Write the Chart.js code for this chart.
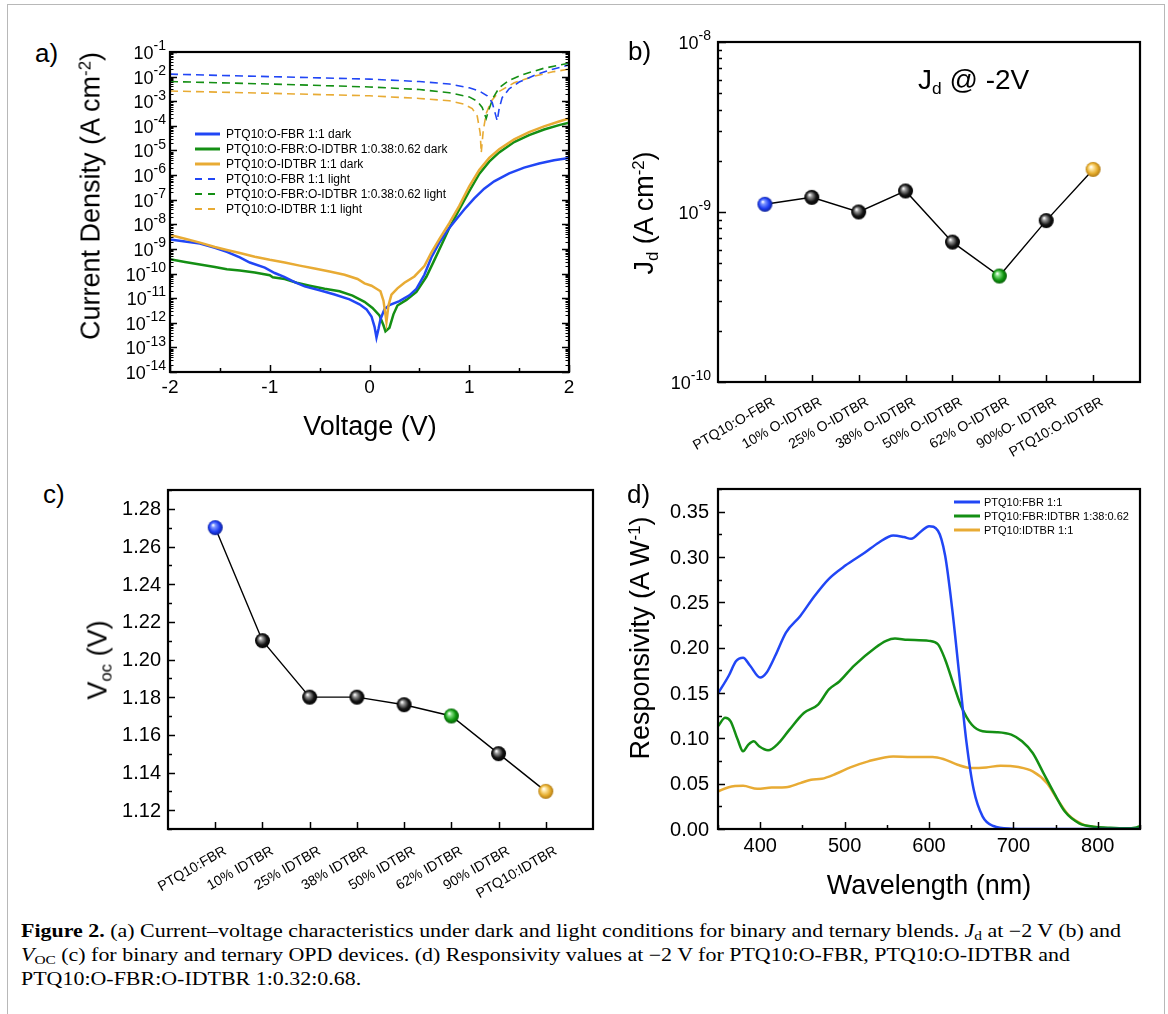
<!DOCTYPE html>
<html><head><meta charset="utf-8">
<script src="https://cdn.jsdelivr.net/npm/chart.js@4.4.0/dist/chart.umd.min.js"></script>
<style>
html,body{margin:0;padding:0;background:#fff;}
#root{position:relative;width:1168px;height:1014px;overflow:hidden;background:#fff;font-family:'Liberation Sans',Arial,sans-serif;color:#000;}
#frame{position:absolute;left:7px;top:4px;width:1158px;height:1040px;border:1.5px solid #b8b8b8;box-sizing:border-box;}
canvas{position:absolute;}
.t{position:absolute;white-space:nowrap;font-size:27px;line-height:1;}
.c{transform:translate(-50%,-50%);}
.rot{transform:translate(-50%,-50%) rotate(-90deg);}
.t sup{font-size:62%;position:relative;top:-0.55em;vertical-align:baseline;}
.t sub{font-size:62%;position:relative;top:0.3em;vertical-align:baseline;}
.pl{position:absolute;font-size:26px;line-height:1;}
#cap{position:absolute;left:21px;top:920px;font-family:'Liberation Serif','Times New Roman',serif;font-size:18px;line-height:22px;}
.cl{white-space:nowrap;transform-origin:0 50%;display:block;width:max-content;}
.cl sub{font-size:70%;vertical-align:baseline;position:relative;top:0.25em;}
</style></head>
<body><div id="root">
<div id="frame"></div>
<canvas id="ca" width="500" height="400" style="left:100px;top:30px"></canvas>
<canvas id="cb" width="520" height="440" style="left:640px;top:20px"></canvas>
<canvas id="cc" width="520" height="440" style="left:100px;top:470px"></canvas>
<canvas id="cd" width="520" height="400" style="left:640px;top:470px"></canvas>

<div class="pl" style="left:35px;top:40px">a)</div>
<div class="pl" style="left:628px;top:38px">b)</div>
<div class="pl" style="left:43px;top:481px">c)</div>
<div class="pl" style="left:627px;top:481px">d)</div>

<div class="t rot" style="left:91px;top:196px">Current Density (A cm<sup>-2</sup>)</div>
<div class="t c" style="left:370px;top:426px">Voltage (V)</div>
<div class="t rot" style="left:644px;top:213px">J<sub>d</sub> (A cm<sup>-2</sup>)</div>
<div class="t" style="left:918px;top:66px;font-size:28px">J<sub>d</sub> @ -2V</div>
<div class="t rot" style="left:98px;top:660px">V<sub>oc</sub> (V)</div>
<div class="t rot" style="left:640px;top:638px">Responsivity (A W<sup>-1</sup>)</div>
<div class="t c" style="left:929px;top:885px">Wavelength (nm)</div>

<div id="cap">
<div class="cl" id="cl1"><b>Figure 2.</b> (a) Current–voltage characteristics under dark and light conditions for binary and ternary blends. <i>J</i><sub>d</sub> at −2 V (b) and</div>
<div class="cl" id="cl2"><i>V</i><sub>OC</sub> (c) for binary and ternary OPD devices. (d) Responsivity values at −2 V for PTQ10:O-FBR, PTQ10:O-IDTBR and</div>
<div class="cl" id="cl3">PTQ10:O-FBR:O-IDTBR 1:0.32:0.68.</div>
</div>
</div>
<script>
// ---------------- DATA ----------------
// (a) J-V curves
const vBlueDark = [-2.00,-1.85,-1.70,-1.55,-1.43,-1.30,-1.20,-1.05,-0.95,-0.85,-0.75,-0.65,-0.50,-0.35,-0.20,-0.10,-0.03,0.02,0.05,0.07,0.09,0.11,0.15,0.20,0.30,0.40,0.47,0.55,0.62,0.70,0.78,0.85,0.95,1.05,1.15,1.25,1.40,1.55,1.70,1.85,2.00];
const jBlueDark = [2.4e-9,2.0e-9,1.66e-9,1.12e-9,7.6e-10,4.5e-10,2.8e-10,1.74e-10,1.05e-10,7.1e-11,4.5e-11,3.0e-11,2.1e-11,1.41e-11,8.9e-12,5.6e-12,3.5e-12,1.8e-12,7e-13,2.5e-13,5.6e-13,1.4e-12,3.5e-12,5.2e-12,7.6e-12,1.3e-11,2.4e-11,8.9e-11,4.5e-10,1.8e-9,5.6e-9,1.26e-8,4e-8,1.12e-7,2.8e-7,5.6e-7,1.17e-6,2.0e-6,2.95e-6,4.0e-6,5.0e-6];
const vGreenDark = [-2.00,-1.85,-1.70,-1.55,-1.43,-1.30,-1.15,-1.00,-0.97,-0.85,-0.73,-0.60,-0.45,-0.30,-0.17,-0.05,0.03,0.10,0.14,0.16,0.20,0.24,0.28,0.37,0.47,0.57,0.65,0.72,0.80,0.90,1.00,1.10,1.20,1.30,1.45,1.60,1.75,1.90,2.00];
const jGreenDark = [3.8e-10,2.95e-10,2.35e-10,1.86e-10,1.5e-10,1.32e-10,1.1e-10,8.5e-11,7.0e-11,6.0e-11,4.2e-11,3.2e-11,2.4e-11,1.9e-11,1.26e-11,7.1e-12,4.0e-12,2.0e-12,7.9e-13,4.5e-13,6.3e-13,2.2e-12,5e-12,8.5e-12,1.8e-11,7.4e-11,3.5e-10,1.4e-9,7.1e-9,4e-8,2.2e-7,1.12e-6,3.5e-6,8.3e-6,2.2e-5,4.2e-5,7.1e-5,1.07e-4,1.35e-4];
const vYellowDark = [-2.00,-1.85,-1.70,-1.55,-1.43,-1.30,-1.15,-1.00,-0.85,-0.70,-0.55,-0.40,-0.25,-0.12,-0.05,0.02,0.07,0.11,0.14,0.17,0.19,0.22,0.28,0.35,0.45,0.55,0.62,0.70,0.80,0.90,1.00,1.10,1.20,1.30,1.45,1.60,1.75,1.90,2.00];
const jYellowDark = [3.7e-9,2.6e-9,1.8e-9,1.2e-9,9.1e-10,6.8e-10,4.8e-10,3.6e-10,2.8e-10,2.1e-10,1.6e-10,1.2e-10,8.9e-11,6.0e-11,4e-11,3.2e-11,2.4e-11,1.9e-11,7.9e-12,1.1e-12,5e-12,1.4e-11,2.5e-11,4.2e-11,7.6e-11,2e-10,7.1e-10,2.5e-9,1.12e-8,5.6e-8,3.5e-7,1.6e-6,5e-6,1.12e-5,2.8e-5,5.6e-5,9.5e-5,1.5e-4,2.0e-4];
const vBlueLight = [-2.0,-1.5,-1.0,-0.5,0.0,0.5,0.8,1.0,1.1,1.18,1.23,1.26,1.28,1.30,1.33,1.40,1.50,1.65,1.80,2.0];
const jBlueLight = [1.26e-2,1.12e-2,1.0e-2,8.9e-3,7.9e-3,6.3e-3,5.0e-3,3.5e-3,2.6e-3,1.66e-3,8.9e-4,3.2e-4,1.6e-4,5e-4,1.4e-3,3.2e-3,6.0e-3,1.12e-2,1.8e-2,3.0e-2];
const vGreenLight = [-2.0,-1.0,0.0,0.5,0.8,1.0,1.08,1.13,1.17,1.20,1.24,1.30,1.40,1.55,1.75,2.0];
const jGreenLight = [6.3e-3,5.0e-3,3.8e-3,3.0e-3,2.2e-3,1.5e-3,1.0e-3,5.6e-4,2.0e-4,5.0e-4,1.4e-3,3.5e-3,7.1e-3,1.26e-2,2.2e-2,3.5e-2];
const vYellowLight = [-2.0,-1.0,0.0,0.5,0.8,0.95,1.03,1.08,1.11,1.12,1.14,1.17,1.22,1.30,1.45,1.65,1.85,2.0];
const jYellowLight = [2.6e-3,2.1e-3,1.66e-3,1.3e-3,1.05e-3,7.6e-4,5.0e-4,2.5e-4,5.0e-5,7.9e-6,6.3e-5,3.2e-4,1.0e-3,2.5e-3,5.6e-3,1.05e-2,1.6e-2,2.0e-2];
const ivLegend = ['PTQ10:O-FBR 1:1 dark','PTQ10:O-FBR:O-IDTBR 1:0.38:0.62 dark','PTQ10:O-IDTBR 1:1 dark','PTQ10:O-FBR 1:1 light','PTQ10:O-FBR:O-IDTBR 1:0.38:0.62 light','PTQ10:O-IDTBR 1:1 light'];
const ivXTicks = [-2,-1,0,1,2];
const ivXMinor = [-1.5,-0.5,0.5,1.5];
const ivYExps = [-14,-13,-12,-11,-10,-9,-8,-7,-6,-5,-4,-3,-2,-1];

// (b) Jd @ -2V
const jdCategories = ['PTQ10:O-FBR','10% O-IDTBR','25% O-IDTBR','38% O-IDTBR','50% O-IDTBR','62% O-IDTBR','90%O- IDTBR','PTQ10:O-IDTBR'];
const jdValues = [1.11e-9,1.22e-9,1.0e-9,1.33e-9,6.65e-10,4.2e-10,8.9e-10,1.78e-9];
const jdYExps = [-10,-9,-8];

// (c) Voc
const vocCategories = ['PTQ10:FBR','10% IDTBR','25% IDTBR','38% IDTBR','50% IDTBR','62% IDTBR','90% IDTBR','PTQ10:IDTBR'];
const vocValues = [1.27,1.21,1.18,1.18,1.176,1.17,1.15,1.13];
const vocTicks = [1.12,1.14,1.16,1.18,1.20,1.22,1.24,1.26,1.28];
const vocMinor = [1.11,1.13,1.15,1.17,1.19,1.21,1.23,1.25,1.27,1.29];
const markerColors = ['blue','black','black','black','black','green','black','yellow'];

// (d) Responsivity
const wlBlue = [350,362.7,371.2,379.7,388.1,400,407.2,417.8,430.5,447.5,464.4,481.4,500.8,523.7,540.7,557.6,570.3,578.8,591.5,600,610.6,619.1,627.5,636,644.5,653,663.6,676.3,697.5,720,760,800,850];
const rBlue = [0.1495,0.169,0.185,0.189,0.180,0.167,0.172,0.191,0.2167,0.235,0.257,0.276,0.2905,0.3046,0.316,0.3238,0.322,0.320,0.329,0.334,0.329,0.3016,0.2425,0.1687,0.0949,0.0432,0.0137,0.0033,0.0004,0.0001,0,0,0];
const wlGreen = [350,358.5,364.8,373.3,379.7,386,392.4,398.7,409.3,422,434.7,451.7,468.6,481.4,494.1,511,536.4,549.2,559.7,574.6,600,610.6,619.1,629.7,638.1,650.8,663.6,680.5,697.5,710.2,722.9,735.6,748.3,761,778,794.9,811.9,833,845.8,850.8];
const rGreen = [0.1133,0.1226,0.119,0.0986,0.0857,0.093,0.0967,0.0912,0.0868,0.0949,0.1096,0.128,0.1373,0.154,0.163,0.180,0.200,0.2075,0.210,0.2086,0.2075,0.2038,0.187,0.1576,0.1355,0.115,0.1078,0.1067,0.104,0.0967,0.0838,0.0617,0.0395,0.0192,0.0063,0.0026,0.0015,0.0007,0.0018,0.0033];
const wlYellow = [350,362.7,379.7,396.6,413.6,430.5,447.5,460.2,472.9,489.8,506.8,528,557.6,578.8,604.2,616.9,633.9,650.8,667.8,684.7,705.9,722.9,739.8,752.5,765.3,782.2,803.4,828.8,850.8];
const rYellow = [0.0413,0.0461,0.0476,0.0443,0.0458,0.0461,0.0506,0.0543,0.0554,0.0609,0.0679,0.0746,0.0801,0.0794,0.0794,0.0772,0.0709,0.0672,0.0679,0.0698,0.0683,0.0635,0.0506,0.0321,0.0155,0.0052,0.0015,0.0004,0.0007];
const respLegend = ['PTQ10:FBR 1:1','PTQ10:FBR:IDTBR 1:38:0.62','PTQ10:IDTBR 1:1'];
const respXTicks = [400,500,600,700,800];
const respXMinor = [350,450,550,650,750,850];
const respYTicks = [0,0.05,0.10,0.15,0.20,0.25,0.30,0.35];
const respYMinor = [0.025,0.075,0.125,0.175,0.225,0.275,0.325,0.375];

// ---------------- STYLE / HELPERS ----------------
const FONT = "'Liberation Sans', Arial, sans-serif";
const BLUE = '#2146f5', GREEN = '#148f14', YELLOW = '#e8ab34';

function pts(xs, ys){ return xs.map((x,i)=>({x:x, y:ys[i]})); }
function lineDs(xs, ys, color, w, dash){
  return {data:pts(xs,ys), borderColor:color, borderWidth:w, borderDash:dash||[], pointRadius:0, fill:false, tension:0};
}
function minorLog(exps){ const out=[]; for(let i=0;i<exps.length-1;i++){ for(let m=2;m<=9;m++) out.push(m*Math.pow(10,exps[i])); } return out; }

function frame(ctx,a,lw){ ctx.lineWidth=lw; ctx.strokeStyle='#000'; ctx.strokeRect(a.left,a.top,a.right-a.left,a.bottom-a.top); }
function yTicks(ctx,chart,vals,len,sides,lw){
  const a=chart.chartArea, s=chart.scales.y; ctx.lineWidth=lw; ctx.strokeStyle='#000'; ctx.beginPath();
  vals.forEach(v=>{ const y=Math.round(s.getPixelForValue(v))+0.5;
    if(sides.includes('l')){ctx.moveTo(a.left,y);ctx.lineTo(a.left+len,y);}
    if(sides.includes('r')){ctx.moveTo(a.right,y);ctx.lineTo(a.right-len,y);} });
  ctx.stroke();
}
function xTicks(ctx,chart,vals,len,sides,lw){
  const a=chart.chartArea, s=chart.scales.x; ctx.lineWidth=lw; ctx.strokeStyle='#000'; ctx.beginPath();
  vals.forEach(v=>{ const x=Math.round(s.getPixelForValue(v))+0.5;
    if(sides.includes('b')){ctx.moveTo(x,a.bottom);ctx.lineTo(x,a.bottom-len);}
    if(sides.includes('t')){ctx.moveTo(x,a.top);ctx.lineTo(x,a.top+len);} });
  ctx.stroke();
}
function powLabel(ctx,xr,y,exp,bs,es){
  const e=String(exp);
  ctx.textBaseline='middle'; ctx.textAlign='left'; ctx.fillStyle='#000';
  ctx.font=es+'px '+FONT; const we=ctx.measureText(e).width;
  ctx.font=bs+'px '+FONT; const wb=ctx.measureText('10').width;
  const x0=xr-we-wb; ctx.fillText('10',x0,y);
  ctx.font=es+'px '+FONT; ctx.fillText(e,x0+wb,y-bs*0.42);
}
function catLabels(ctx,chart,cats,dx,dy,size){
  const a=chart.chartArea, s=chart.scales.x;
  ctx.font=size+'px '+FONT; ctx.fillStyle='#000'; ctx.textAlign='right'; ctx.textBaseline='middle';
  cats.forEach((c,i)=>{ const x=s.getPixelForValue(i+1); ctx.save(); ctx.translate(x+dx,a.bottom+dy); ctx.rotate(-Math.PI/6); ctx.fillText(c,0,0); ctx.restore(); });
}
function ball(base,light,dark,r){
  const c=document.createElement('canvas'); const s=2*r+2; c.width=s; c.height=s;
  const g=c.getContext('2d'); const cx=s/2, cy=s/2;
  const grd=g.createRadialGradient(cx-r*0.3,cy-r*0.35,r*0.05,cx,cy,r*1.05);
  grd.addColorStop(0,'#ffffff'); grd.addColorStop(0.22,light); grd.addColorStop(0.65,base); grd.addColorStop(1,dark);
  g.fillStyle=grd; g.beginPath(); g.arc(cx,cy,r,0,Math.PI*2); g.fill(); return c;
}
const BALLS = {
  blue: ball('#1d3cf2','#7f97ff','#0b1d8a',7.5),
  black: ball('#141414','#9a9a9a','#000000',7.5),
  green: ball('#0f960f','#86e086','#045504',7.5),
  yellow: ball('#e5ac2c','#ffe7a3','#a87210',7.5)
};
const baseOpts = (pad, xs, ys) => ({
  responsive:false, animation:false, events:[], devicePixelRatio:1,
  layout:{padding:pad},
  plugins:{legend:{display:false}, tooltip:{enabled:false}},
  scales:{x:Object.assign({display:false},xs), y:Object.assign({display:false},ys)}
});

// ---------------- PANEL A ----------------  (area: 170..569 x 52..372)
new Chart(document.getElementById('ca'), {
  type:'line',
  data:{datasets:[
    lineDs(vYellowDark,jYellowDark,YELLOW,2.5),
    lineDs(vBlueDark,jBlueDark,BLUE,2.5),
    lineDs(vGreenDark,jGreenDark,GREEN,2.5),
    lineDs(vBlueLight,jBlueLight,BLUE,1.6,[8,5]),
    lineDs(vGreenLight,jGreenLight,GREEN,1.6,[8,5]),
    lineDs(vYellowLight,jYellowLight,YELLOW,1.6,[8,5])
  ]},
  options: baseOpts({left:70,top:22,right:31,bottom:58},{type:'linear',min:-2,max:2},{type:'logarithmic',min:1e-14,max:1e-1}),
  plugins:[{id:'decoA', afterDraw(chart){
    const ctx=chart.ctx, a=chart.chartArea; ctx.save();
    const major=ivYExps.map(e=>Math.pow(10,e));
    yTicks(ctx,chart,major,7,'lr',1.5);
    yTicks(ctx,chart,minorLog(ivYExps),3.5,'lr',1);
    xTicks(ctx,chart,ivXTicks,7,'b',1.5);
    xTicks(ctx,chart,ivXMinor,4,'b',1.5);
    frame(ctx,a,2.2);
    ivYExps.forEach(e=>powLabel(ctx,a.left-4,chart.scales.y.getPixelForValue(Math.pow(10,e))+2,e,18,14));
    ctx.font='19px '+FONT; ctx.textAlign='center'; ctx.textBaseline='middle';
    ivXTicks.forEach(v=>ctx.fillText(String(v),chart.scales.x.getPixelForValue(v),a.bottom+16));
    // legend
    const cols=[BLUE,GREEN,YELLOW,BLUE,GREEN,YELLOW];
    ctx.font='12px '+FONT; ctx.textAlign='left';
    ivLegend.forEach((t,i)=>{ const y=104+15*i;
      ctx.beginPath(); ctx.strokeStyle=cols[i];
      if(i<3){ctx.lineWidth=3; ctx.setLineDash([]);} else {ctx.lineWidth=2; ctx.setLineDash([7,6]);}
      ctx.moveTo(95,y); ctx.lineTo(120,y); ctx.stroke(); ctx.setLineDash([]);
      ctx.fillStyle='#000'; ctx.fillText(t,126,y+0.5); });
    ctx.restore();
  }}]
});

// ---------------- PANEL B ----------------  (area: 718..1140 x 42..382)
new Chart(document.getElementById('cb'), {
  type:'line',
  data:{datasets:[{data:pts(jdValues.map((v,i)=>i+1),jdValues), borderColor:'#000', borderWidth:1.4, tension:0,
    pointStyle:markerColors.map(c=>BALLS[c])}]},
  options: baseOpts({left:78,top:22,right:20,bottom:78},{type:'linear',min:0,max:9},{type:'logarithmic',min:1e-10,max:1e-8}),
  plugins:[{id:'decoB', afterDraw(chart){
    const ctx=chart.ctx, a=chart.chartArea; ctx.save();
    yTicks(ctx,chart,jdYExps.map(e=>Math.pow(10,e)),8,'l',1.5);
    yTicks(ctx,chart,minorLog(jdYExps),4,'l',1.5);
    xTicks(ctx,chart,jdCategories.map((c,i)=>i+1),7,'b',1.5);
    frame(ctx,a,2.2);
    jdYExps.forEach(e=>powLabel(ctx,a.left-7,chart.scales.y.getPixelForValue(Math.pow(10,e))+2,e,18,14));
    catLabels(ctx,chart,jdCategories,9,19,14);
    ctx.restore();
  }}]
});

// ---------------- PANEL C ----------------  (area: 168..593 x 490..829)
new Chart(document.getElementById('cc'), {
  type:'line',
  data:{datasets:[{data:pts(vocValues.map((v,i)=>i+1),vocValues), borderColor:'#000', borderWidth:1.4, tension:0,
    pointStyle:markerColors.map(c=>BALLS[c])}]},
  options: baseOpts({left:68,top:20,right:27,bottom:81},{type:'linear',min:0,max:9},{type:'linear',min:1.11,max:1.29}),
  plugins:[{id:'decoC', afterDraw(chart){
    const ctx=chart.ctx, a=chart.chartArea; ctx.save();
    yTicks(ctx,chart,vocTicks,7,'l',1.5);
    yTicks(ctx,chart,vocMinor,4,'l',1.5);
    xTicks(ctx,chart,vocCategories.map((c,i)=>i+1),7,'b',1.5);
    frame(ctx,a,2.2);
    ctx.font='20px '+FONT; ctx.textAlign='right'; ctx.textBaseline='middle'; ctx.fillStyle='#000';
    vocTicks.forEach(v=>ctx.fillText(v.toFixed(2),a.left-7,chart.scales.y.getPixelForValue(v)+1));
    catLabels(ctx,chart,vocCategories,10,21,14);
    ctx.restore();
  }}]
});

// ---------------- PANEL D ----------------  (area: 718..1140 x 489..829)
function respDs(xs,ys,c){ return {data:pts(xs,ys), borderColor:c, borderWidth:2.5, pointRadius:0, fill:false, cubicInterpolationMode:'monotone'}; }
new Chart(document.getElementById('cd'), {
  type:'line',
  data:{datasets:[respDs(wlBlue,rBlue,BLUE),respDs(wlGreen,rGreen,GREEN),respDs(wlYellow,rYellow,YELLOW)]},
  options: baseOpts({left:78,top:19,right:20,bottom:41},{type:'linear',min:350,max:850},{type:'linear',min:0,max:0.375}),
  plugins:[{id:'decoD', afterDraw(chart){
    const ctx=chart.ctx, a=chart.chartArea; ctx.save();
    yTicks(ctx,chart,respYTicks,7,'l',1.5);
    yTicks(ctx,chart,respYMinor,4,'l',1.5);
    xTicks(ctx,chart,respXTicks,7,'b',1.5);
    xTicks(ctx,chart,respXMinor,4,'b',1.5);
    frame(ctx,a,2.2);
    ctx.font='20px '+FONT; ctx.fillStyle='#000'; ctx.textAlign='right'; ctx.textBaseline='middle';
    respYTicks.forEach(v=>ctx.fillText(v.toFixed(2),a.left-9,chart.scales.y.getPixelForValue(v)+1));
    ctx.textAlign='center';
    respXTicks.forEach(v=>ctx.fillText(String(v),chart.scales.x.getPixelForValue(v),a.bottom+17));
    const cols=[BLUE,GREEN,YELLOW];
    ctx.font='11px '+FONT; ctx.textAlign='left';
    respLegend.forEach((t,i)=>{ const y=32+14*i; ctx.beginPath(); ctx.strokeStyle=cols[i]; ctx.lineWidth=3;
      ctx.moveTo(314,y); ctx.lineTo(340,y); ctx.stroke(); ctx.fillStyle='#000'; ctx.fillText(t,344,y+0.5); });
    ctx.restore();
  }}]
});

// ---------------- CAPTION FIT ----------------
(function(){
  const l1=document.getElementById('cl1'); const w=l1.getBoundingClientRect().width;
  const sx=1100/w;
  ['cl1','cl2','cl3'].forEach(id=>{document.getElementById(id).style.transform='scaleX('+sx+')';});
})();
</script>
</body></html>
